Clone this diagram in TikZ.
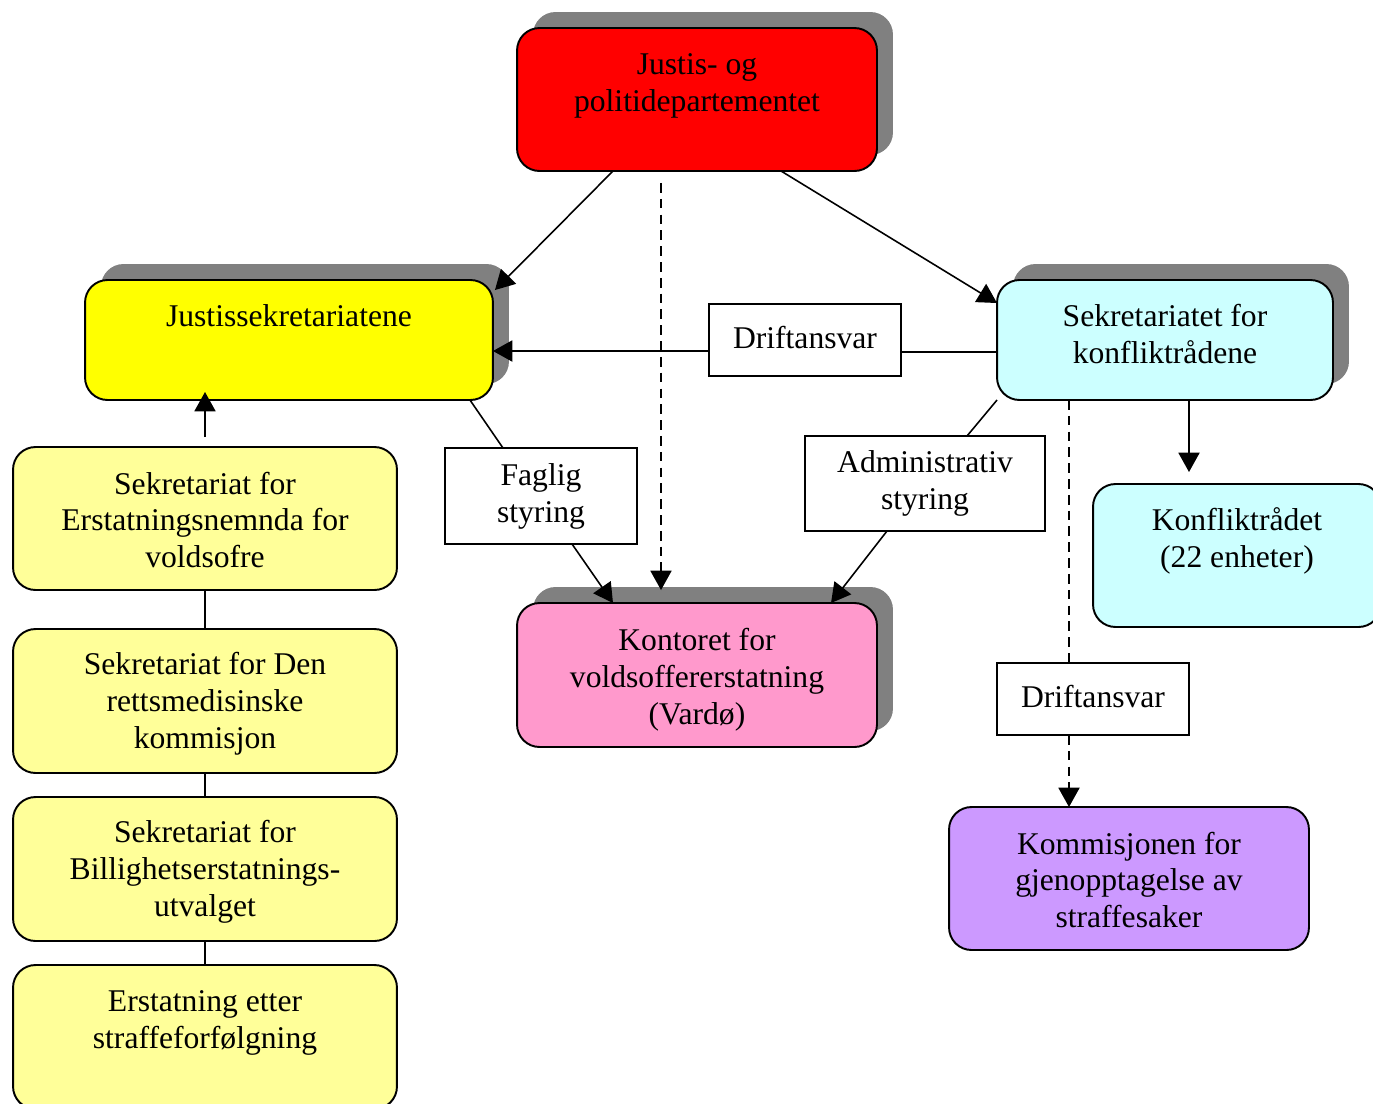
\documentclass[tikz,border=0pt]{standalone}
\usepackage{fontspec}
\setmainfont{Liberation Serif}
\usetikzlibrary{arrows.meta,shadows,calc}

\definecolor{shadowgray}{HTML}{808080}
\definecolor{lightcyan}{HTML}{CCFFFF}
\definecolor{lightpink}{HTML}{FF99CC}
\definecolor{lightpurple}{HTML}{CC99FF}
\definecolor{paleyellow}{HTML}{FFFF99}
\definecolor{pureyellow}{HTML}{FFFF00}

\begin{document}
\begin{tikzpicture}[
    x=0.02cm, y=-0.02cm,
    font=\fontsize{18}{21}\selectfont,
    box/.style={rectangle, draw, line width=1.1pt, rounded corners=0.45cm, inner sep=0pt, outer sep=0pt},
    shadowed/.style={drop shadow={shadow xshift=0.32cm, shadow yshift=0.32cm, fill=shadowgray, opacity=1}},
    tag/.style={rectangle, draw, line width=0.8pt, fill=white, align=center, inner sep=0pt, outer sep=0pt},
    txt/.style={align=center},
    arrow/.style={-{Triangle[width=12pt,length=11pt]}, line width=0.9pt},
    link/.style={line width=0.9pt},
    dashline/.style={line width=0.9pt, dash pattern=on 5.5pt off 3.5pt}
]
    \useasboundingbox (0,0) rectangle (1373,1103);

    % top level
    \node[box, shadowed, fill=red, minimum width=7.2cm, minimum height=2.86cm] (jpd) at (697,99.5) {};
    \node[txt] (jpdtxt) at (697,86) {Justis- og\\politidepartementet};

    % second level
    \node[box, shadowed, fill=pureyellow, minimum width=8.16cm, minimum height=2.4cm] (justis) at (289,340) {};
    \node[txt] (justistxt) at (289,316) {Justissekretariatene};

    \node[box, shadowed, fill=lightcyan, minimum width=6.72cm, minimum height=2.4cm] (sekr) at (1165,340) {};
    \node[txt] (sekrtxt) at (1165,334) {Sekretariatet for\\konfliktrådene};

    \node[box, fill=lightcyan, minimum width=5.76cm, minimum height=2.86cm] (konflikt) at (1237,555.5) {};
    \node[txt] (konflikttxt) at (1237,541) {Konfliktrådet\\(22 enheter)};

    \node[box, shadowed, fill=lightpink, minimum width=7.2cm, minimum height=2.88cm] (kontor) at (697,675) {};
    \node[txt] (kontortxt) at (697,680) {Kontoret for\\voldsoffererstatning\\(Vardø)};

    \node[box, fill=lightpurple, minimum width=7.2cm, minimum height=2.86cm] (kommis) at (1129,878.5) {};
    \node[txt] (kommistxt) at (1129,880) {Kommisjonen for\\gjenopptagelse av\\straffesaker};

    % left column
    \node[box, fill=paleyellow, minimum width=7.68cm, minimum height=2.86cm] (erstatn) at (205,518.5) {};
    \node[txt] (erstatntxt) at (205,520) {Sekretariat for\\Erstatningsnemnda for\\voldsofre};

    \node[box, fill=paleyellow, minimum width=7.68cm, minimum height=2.88cm] (rettsmed) at (205,701) {};
    \node[txt] (rettsmedtxt) at (205,704) {Sekretariat for Den\\rettsmedisinske\\kommisjon};

    \node[box, fill=paleyellow, minimum width=7.68cm, minimum height=2.88cm] (billig) at (205,869) {};
    \node[txt] (billigtxt) at (205,872) {Sekretariat for\\Billighetserstatnings-\\utvalget};

    \node[box, fill=paleyellow, minimum width=7.68cm, minimum height=2.88cm] (straffe) at (205,1037) {};
    \node[txt] (straffetxt) at (205,1023) {Erstatning etter\\straffeforfølgning};

    % labels on connectors
    \node[tag, minimum width=3.84cm, minimum height=1.44cm] (drift1) at (805,340) {\raisebox{3pt}{Driftansvar}};
    \node[tag, minimum width=3.84cm, minimum height=1.92cm] (faglig) at (541,496) {Faglig\\styring\rule[-2pt]{0pt}{1pt}};
    \node[tag, minimum width=4.8cm, minimum height=1.9cm] (admin) at (925,483.5) {Administrativ\\styring\rule[-3pt]{0pt}{1pt}};
    \node[tag, minimum width=3.84cm, minimum height=1.44cm] (drift2) at (1093,699) {\raisebox{3pt}{Driftansvar}};

    % connectors
    \draw[arrow] ($(jpd.south)+(-84,0)$) -- ($(justis.north east)+(2,10)$);
    \draw[arrow] ($(jpd.south)+(84,0)$) -- ($(sekr.north west)+(0,23)$);
    \draw[dashline, arrow] ($(jpd.south)+(-36,12)$) -- ($(kontor.north)+(-36,-13)$);

    \draw[link] ($(sekr.west)+(0,12)$) -- ($(drift1.east)+(0,12)$);
    \draw[arrow] ($(drift1.west)+(0,11)$) -- ($(justis.east)+(0,11)$);

    \draw[link] ($(justis.south east)+(-23,0)$) -- ($(faglig.north)+(-38,0)$);
    \draw[arrow] ($(faglig.south)+(31,0)$) -- ($(kontor.north)+(-84,0)$);

    \draw[link] (sekr.south west) -- ($(admin.north)+(42,0)$);
    \draw[arrow] ($(admin.south)+(-38,0)$) -- ($(kontor.north)+(134,0)$);

    \draw[arrow] ($(sekr.south)+(24,0)$) -- ($(konflikt.north)+(-48,-12)$);

    \draw[dashline] ($(sekr.south)+(-96,0)$) -- ($(drift2.north)+(-24,0)$);
    \draw[dashline, arrow] ($(drift2.south)+(-24,0)$) -- ($(kommis.north)+(-60,0)$);

    \draw[arrow] ($(erstatn.north)+(0,-10)$) -- ($(justis.south)+(-84,-8)$);
    \draw[link] (erstatn.south) -- (rettsmed.north);
    \draw[link] (rettsmed.south) -- (billig.north);
    \draw[link] (billig.south) -- (straffe.north);
\end{tikzpicture}
\end{document}
